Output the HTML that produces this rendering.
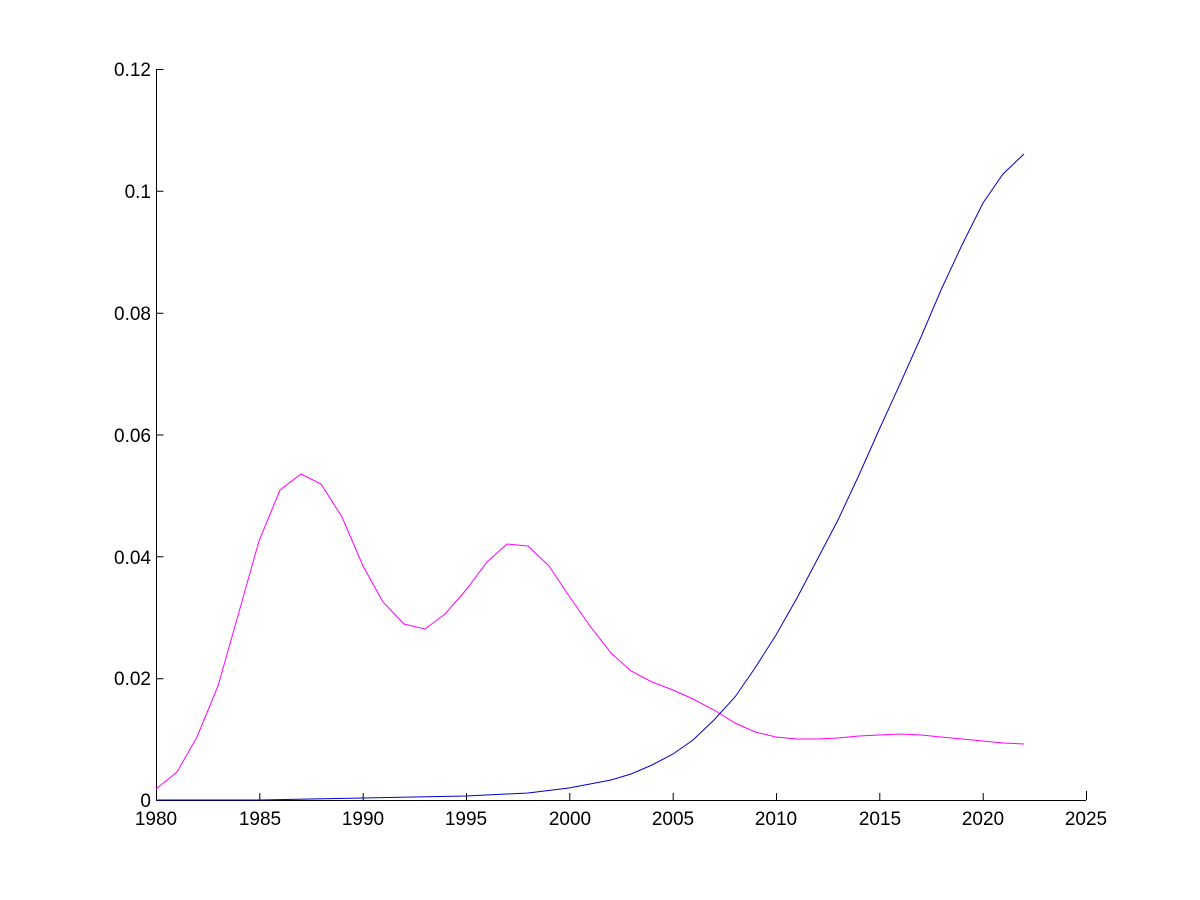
<!DOCTYPE html>
<html><head><style>body{margin:0;background:#fff}svg{display:block}text{font-family:"Liberation Sans",Arial,sans-serif;font-size:19px;fill:#000}</style></head><body>
<svg width="1200" height="900" xmlns="http://www.w3.org/2000/svg">
<rect width="1200" height="900" fill="#fff"/>
<g stroke="#000" stroke-width="1" fill="none">
<line x1="156.5" y1="69" x2="156.5" y2="800"/>
<line x1="156" y1="800.5" x2="1086" y2="800.5"/>
<path d="M156.5 69.5h7M156.5 191.3h7M156.5 313.2h7M156.5 435h7M156.5 556.8h7M156.5 678.7h7M156.5 800.5h7"/>
<path d="M259.8 800v-7M363.2 800v-7M466.5 800v-7M569.8 800v-7M673.2 800v-7M776.5 800v-7M879.8 800v-7M983.2 800v-7M1086.5 800v-9"/>
</g>
<g text-anchor="end">
<text x="151" y="76">0.12</text><text x="151" y="198">0.1</text><text x="151" y="320">0.08</text><text x="151" y="442">0.06</text><text x="151" y="564">0.04</text><text x="151" y="685">0.02</text><text x="151" y="807">0</text>
</g>
<g text-anchor="middle">
<text x="156" y="825">1980</text><text x="260" y="825">1985</text><text x="363" y="825">1990</text><text x="466" y="825">1995</text><text x="570" y="825">2000</text><text x="673" y="825">2005</text><text x="776" y="825">2010</text><text x="880" y="825">2015</text><text x="983" y="825">2020</text><text x="1086" y="825">2025</text>
</g>
<polyline fill="none" stroke="#ff00ff" stroke-width="1" points="156,789 177,772 197,737 218,686 239,612 259,541 280,490 301,474 321,484 342,517 363,566 383,602 404,624 425,629 445,614 466,590 487,562 507,544 528,546 549,566 569,596 590,626 611,653 631,671 652,682 673,690 693,699 714,710 735,723 755,732 776,737 797,739 817,739 838,738 859,736 879,735 900,734 921,735 941,737 962,739 983,741 1003,743 1024,744"/>
<polyline fill="none" stroke="#0000cc" stroke-width="1" points="156,800 259,800 363,798 466,796 528,793 569,788 611,780 631,774 652,765 673,754 693,740 714,720 735,697 755,668 776,635 797,598 817,560 838,520 859,475 879,430 900,384 921,337 941,290 962,245 983,203 1003,174 1024,154"/>
</svg>
</body></html>
